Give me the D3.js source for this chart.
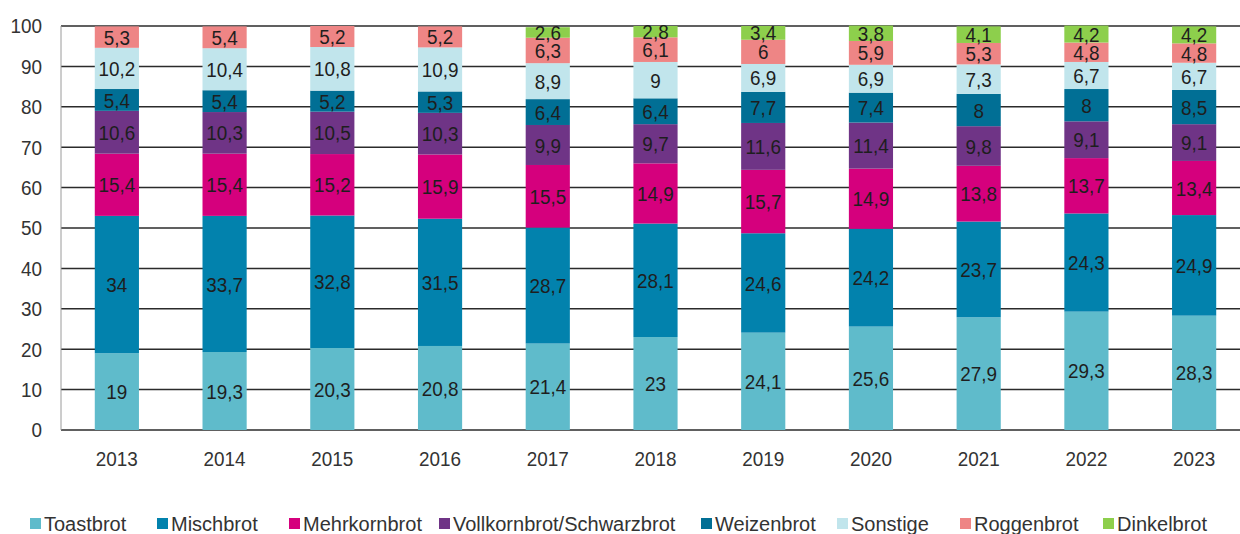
<!DOCTYPE html>
<html>
<head>
<meta charset="utf-8">
<script src="https://cdn.jsdelivr.net/npm/d3@7"></script>
<style>
  body { margin: 0; background: #fff; }
  svg { display: block; font-family: "Liberation Sans", Arial, sans-serif; }
</style>
</head>
<body>
<svg width="1240" height="534"></svg>
<script>
// Brotsorten-Anteile in %, 2013-2023

const years = ["2013","2014","2015","2016","2017","2018","2019","2020","2021","2022","2023"];
const seriesNames = ["Toastbrot","Mischbrot","Mehrkornbrot","Vollkornbrot/Schwarzbrot","Weizenbrot","Sonstige","Roggenbrot","Dinkelbrot"];
const colors = ["#5fbbcb","#0282ad","#d5007d","#6f3486","#016f95","#c1e5ec","#ee8585","#8dcf4c"];

const toastbrot   = [19, 19.3, 20.3, 20.8, 21.4, 23, 24.1, 25.6, 27.9, 29.3, 28.3];
const mischbrot   = [34, 33.7, 32.8, 31.5, 28.7, 28.1, 24.6, 24.2, 23.7, 24.3, 24.9];
const mehrkorn    = [15.4, 15.4, 15.2, 15.9, 15.5, 14.9, 15.7, 14.9, 13.8, 13.7, 13.4];
const vollkorn    = [10.6, 10.3, 10.5, 10.3, 9.9, 9.7, 11.6, 11.4, 9.8, 9.1, 9.1];
const weizenbrot  = [5.4, 5.4, 5.2, 5.3, 6.4, 6.4, 7.7, 7.4, 8, 8, 8.5];
const sonstige    = [10.2, 10.4, 10.8, 10.9, 8.9, 9, 6.9, 6.9, 7.3, 6.7, 6.7];
const roggenbrot  = [5.3, 5.4, 5.2, 5.2, 6.3, 6.1, 6, 5.9, 5.3, 4.8, 4.8];
const dinkelbrot  = [null, null, null, null, 2.6, 2.8, 3.4, 3.8, 4.1, 4.2, 4.2];

const yTicks = [0,10,20,30,40,50,60,70,80,90,100];

// legend swatch positions (layout only)
const legendX = [30, 157, 289, 439, 701, 837, 960, 1103];

const allSeries = [toastbrot, mischbrot, mehrkorn, vollkorn, weizenbrot, sonstige, roggenbrot, dinkelbrot];
const rows = years.map((yr, i) => {
  const r = { year: yr };
  seriesNames.forEach((s, k) => r[s] = allSeries[k][i] || 0);
  return r;
});

// narrow look: squeeze text horizontally
const sx = 0.9;
function place(sel, fx, fy) {
  sel.attr("transform", (d, i) => `translate(${fx(d, i)},${fy(d, i)}) scale(${sx},1)`);
}

const svg = d3.select("svg");

const x = d3.scaleBand().domain(years).range([63, 1248]).paddingInner(0.59).paddingOuter(0.295);
const y = d3.scaleLinear().domain([0, 100]).range([430, 26]);

// gridlines
svg.append("g")
  .selectAll("line")
  .data(yTicks)
  .join("line")
  .attr("x1", 61).attr("x2", 1240)
  .attr("y1", d => y(d)).attr("y2", d => y(d))
  .style("stroke", "#2b2b2b")
  .style("stroke-width", "1.5px");

// y axis line
svg.append("line")
  .attr("x1", 61).attr("x2", 61)
  .attr("y1", y(100)).attr("y2", y(0))
  .style("stroke", "#9a9a9a")
  .style("stroke-width", "1px");

svg.append("g")
  .selectAll("text")
  .data(yTicks)
  .join("text")
  .call(place, () => 42, d => y(d))
  .attr("dy", "0.35em")
  .attr("text-anchor", "end")
  .style("font-size", "21px")
  .style("fill", "#333")
  .text(d => d);

const stack = d3.stack().keys(seriesNames);
const layers = stack(rows);

const g = svg.append("g");
layers.forEach((layer, k) => {
  g.append("g")
    .selectAll("rect")
    .data(layer.filter(d => d[1] > d[0]))
    .join("rect")
    .attr("x", d => x(d.data.year))
    .attr("width", x.bandwidth())
    .attr("y", d => y(d[1]))
    .attr("height", d => y(d[0]) - y(d[1]))
    .style("fill", colors[k]);
});

layers.forEach((layer, k) => {
  g.append("g")
    .selectAll("text")
    .data(layer.filter(d => d[1] > d[0]))
    .join("text")
    .call(place, d => x(d.data.year) + x.bandwidth() / 2, d => y((d[0] + d[1]) / 2))
    .attr("dy", "0.36em")
    .attr("text-anchor", "middle")
    .style("font-size", "21px")
    .style("fill", "#1e1e1e")
    .text(d => String(d.data[layer.key]).replace(".", ","));
});

// x labels
svg.append("g")
  .selectAll("text")
  .data(years)
  .join("text")
  .call(place, d => x(d) + x.bandwidth() / 2, () => 459)
  .attr("dy", "0.35em")
  .attr("text-anchor", "middle")
  .style("font-size", "21px")
  .style("fill", "#333")
  .text(d => d);

// legend
const legend = svg.append("g")
  .selectAll("g")
  .data(seriesNames)
  .join("g")
  .attr("transform", (d, i) => `translate(${legendX[i]},524)`);

legend.append("rect")
  .attr("x", 0).attr("y", -6)
  .attr("width", 11).attr("height", 11)
  .style("fill", (d, i) => colors[i]);

legend.append("text")
  .attr("x", 14)
  .attr("dy", "0.35em")
  .style("font-size", "20px")
  .style("fill", "#333")
  .text(d => d);
</script>
</body>
</html>
